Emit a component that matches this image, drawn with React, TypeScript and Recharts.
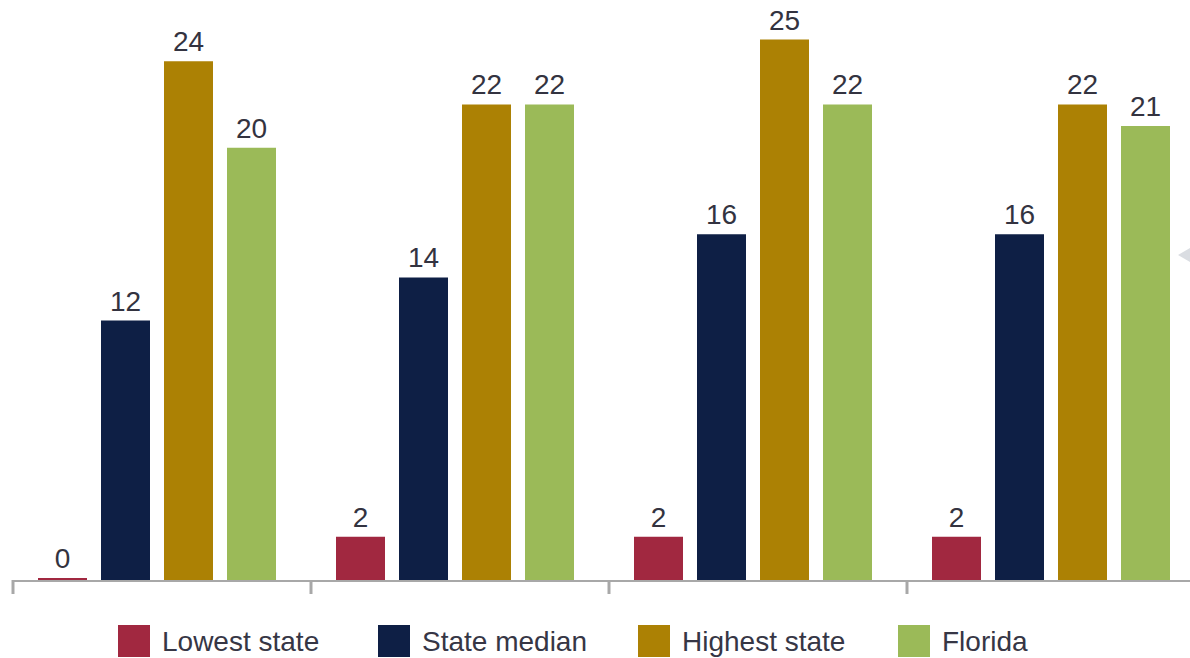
import { BarChart, Bar, XAxis, YAxis, LabelList } from 'recharts'

const categories = ['Group 1', 'Group 2', 'Group 3', 'Group 4']
const lowestState = [0, 2, 2, 2]
const stateMedian = [12, 14, 16, 16]
const highestState = [24, 22, 25, 22]
const florida = [20, 22, 22, 21]

const seriesNames = ['Lowest state', 'State median', 'Highest state', 'Florida']
const COLORS = ['#A12840', '#0E1F45', '#AC8104', '#9BBA58']

const data = categories.map((name, i) => ({
  name,
  lowest: lowestState[i],
  median: stateMedian[i],
  highest: highestState[i],
  florida: florida[i],
}))

const FONT = '"Liberation Sans", Arial, Helvetica, sans-serif'
const CHART_W = 1210
const CHART_H = 658
const MARGIN = { top: 18, right: 10, bottom: 0, left: 8 }
const BAND = (CHART_W - MARGIN.left - MARGIN.right) / categories.length

// category boundaries sit a little right of the band edge in the original
const BoundaryTick = (props: any) => {
  const { x, y } = props
  const left = x - BAND / 2 + 5
  return (
    <g>
      <line x1={left} y1={y + 1} x2={left + BAND} y2={y + 1} stroke="#A8A8A8" strokeWidth={2} />
      <line x1={left} y1={y} x2={left} y2={y + 14} stroke="#A8A8A8" strokeWidth={3} />
    </g>
  )
}

const labelStyle = { fill: '#333340', fontSize: 28, fontFamily: FONT }

export default function App() {
  const keys = ['lowest', 'median', 'highest', 'florida']
  return (
    <div style={{ position: 'absolute', left: 0, top: 0, width: 1190, height: 658, overflow: 'hidden', background: '#fff' }}>
      <BarChart width={CHART_W} height={CHART_H} data={data} margin={MARGIN} barSize={49} barGap={14}>
        <XAxis
          dataKey="name"
          axisLine={false}
          tickLine={false}
          tickSize={0}
          tickMargin={0}
          height={78}
          tick={<BoundaryTick />}
          interval={0}
        />
        <YAxis hide domain={[0, 26]} />
        {keys.map((k, i) => (
          <Bar key={k} dataKey={k} fill={COLORS[i]} isAnimationActive={false} minPointSize={i === 0 ? 2 : 0}>
            <LabelList dataKey={k} position="top" offset={10} style={labelStyle} />
          </Bar>
        ))}
      </BarChart>

      <div style={{ position: 'absolute', left: 118, top: 625, display: 'flex', fontFamily: FONT }}>
        {seriesNames.map((name, i) => (
          <div key={name} style={{ width: 260, display: 'flex', alignItems: 'flex-start' }}>
            <div style={{ width: 32, height: 32, background: COLORS[i], flexShrink: 0 }} />
            <span style={{ marginLeft: 12, fontSize: 28, lineHeight: '34px', color: '#363645', whiteSpace: 'nowrap' }}>{name}</span>
          </div>
        ))}
      </div>

      <div
        style={{
          position: 'absolute',
          left: 1178,
          top: 248,
          width: 0,
          height: 0,
          borderTop: '7px solid transparent',
          borderBottom: '7px solid transparent',
          borderRight: '12px solid #DADDE2',
        }}
      />
    </div>
  )
}
